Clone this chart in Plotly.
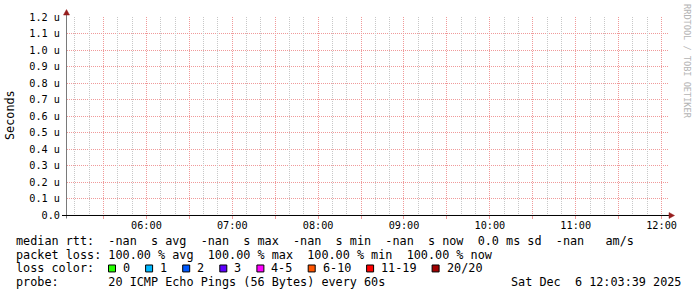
import plotly.graph_objects as go
import pandas as pd

# ---- data ----
rtt_times = ["2025-12-06 05:05:00", "2025-12-06 07:00:00", "2025-12-06 09:00:00",
             "2025-12-06 11:00:00", "2025-12-06 12:03:39"]
rtt_values = [None, None, None, None, None]          # median rtt (all -nan)

y_ticks_s = [0.0, 1e-7, 2e-7, 3e-7, 4e-7, 5e-7, 6e-7, 7e-7, 8e-7, 9e-7, 1e-6, 1.1e-6, 1.2e-6]
y_tick_labels = ["0.0", "0.1 u", "0.2 u", "0.3 u", "0.4 u", "0.5 u", "0.6 u",
                 "0.7 u", "0.8 u", "0.9 u", "1.0 u", "1.1 u", "1.2 u"]

x_tick_times = ["2025-12-06 05:30", "2025-12-06 06:00", "2025-12-06 06:30", "2025-12-06 07:00",
                "2025-12-06 07:30", "2025-12-06 08:00", "2025-12-06 08:30", "2025-12-06 09:00",
                "2025-12-06 09:30", "2025-12-06 10:00", "2025-12-06 10:30", "2025-12-06 11:00",
                "2025-12-06 11:30", "2025-12-06 12:00"]
x_tick_labels = ["", "06:00", "", "07:00", "", "08:00", "", "09:00", "", "10:00", "", "11:00", "", "12:00"]

rtt_stat_names = ["avg", "max", "min", "now"]
rtt_stat_values = ["-nan", "-nan", "-nan", "-nan"]
rtt_sd = "0.0"
rtt_am = "-nan"
loss_stat_names = ["avg", "max", "min", "now"]
loss_stat_values = [100.00, 100.00, 100.00, 100.00]

loss_labels = ["0", "1", "2", "3", "4-5", "6-10", "11-19", "20/20"]
loss_colors = ["#26ff00", "#00b8ff", "#0059ff", "#5e00ff", "#ff00ff", "#ff5500", "#ff0000", "#a10000"]

probe_text = "20 ICMP Echo Pings (56 Bytes) every 60s"
date_text = "Sat Dec  6 12:03:39 2025"

# ---- layout geometry (pixels) ----
W, H = 697, 297
L, R, T, B = 67, 668, 15, 215
FONT = "DejaVu Sans Mono"
FS = 11.8
CW = 7.1
X_RANGE = ["2025-12-06 05:04:30", "2025-12-06 12:04:30"]

def px(x):
    return (x - L) / (R - L)

def py(y):
    return (B - y) / (B - T)

def nb(s):
    return s.replace(" ", "\u00a0")

MGRID = "#f09a9a"
GRID = "#c8c8c8"
ARROW = "#961e1e"

# minor (10 min) grid positions, skipping the 30-min major lines
minor_grid = [t for t in pd.date_range("2025-12-06 05:00", "2025-12-06 12:10", freq="10min")
              if t.minute % 30 != 0]

fig = go.Figure()
fig.add_trace(go.Scatter(x=rtt_times, y=rtt_values, mode="lines", xaxis="x2",
                         line=dict(color="#26ff00", width=1), showlegend=False, hoverinfo="skip"))
fig.add_trace(go.Scatter(x=rtt_times, y=rtt_values, mode="lines",
                         line=dict(color="#26ff00", width=1), showlegend=False, hoverinfo="skip"))

fig.update_layout(
    width=W, height=H,
    margin=dict(l=L, r=W - R, t=T, b=H - B, pad=0),
    paper_bgcolor="white", plot_bgcolor="white",
    showlegend=False,
    font=dict(family=FONT, size=10.2, color="black"),
    xaxis=dict(
        type="date", range=X_RANGE,
        tickmode="array", tickvals=x_tick_times, ticktext=x_tick_labels,
        showgrid=True, gridcolor=MGRID, griddash="1px,1px", gridwidth=1,
        ticks="outside", ticklen=3, tickcolor=MGRID, tickwidth=1,
        ticklabelstandoff=-2,
        showline=False, zeroline=False,
        tickfont=dict(family=FONT, size=10.2, color="black"),
        fixedrange=True,
    ),
    xaxis2=dict(
        type="date", range=X_RANGE, overlaying="x", anchor="y",
        tickmode="array", tickvals=minor_grid, showticklabels=False, ticks="",
        showgrid=True, gridcolor=GRID, griddash="1px,1px", gridwidth=1,
        showline=False, zeroline=False, fixedrange=True,
    ),
    yaxis=dict(
        range=[0, 1.2e-6],
        tickmode="array", tickvals=y_ticks_s, ticktext=y_tick_labels,
        showgrid=True, gridcolor=MGRID, griddash="1px,1px", gridwidth=1,
        ticks="", showline=False, zeroline=False,
        ticklabelstandoff=6,
        tickfont=dict(family=FONT, size=10.2, color="black"),
        fixedrange=True,
    ),
)

shapes = []
# y axis line (gray) and x axis line (black)
shapes.append(dict(type="line", xref="paper", yref="paper",
                   x0=px(66.5), x1=px(66.5), y0=py(218.5), y1=py(12),
                   line=dict(color="#7a7a7a", width=1)))
shapes.append(dict(type="line", xref="paper", yref="paper",
                   x0=px(62), x1=px(670), y0=py(215.5), y1=py(215.5),
                   line=dict(color="black", width=1)))
# arrows
shapes.append(dict(type="path", xref="paper", yref="paper",
                   path=f"M {px(66.5)} {py(7.5)} L {px(63.5)} {py(13)} L {px(69.5)} {py(13)} Z",
                   fillcolor=ARROW, line=dict(color=ARROW, width=0.5)))
shapes.append(dict(type="path", xref="paper", yref="paper",
                   path=f"M {px(674.5)} {py(215.5)} L {px(669)} {py(212.5)} L {px(669)} {py(218.5)} Z",
                   fillcolor=ARROW, line=dict(color=ARROW, width=0.5)))

annotations = []

def text_at(x, y, s, xanchor="left", size=FS, color="black", angle=0):
    annotations.append(dict(xref="paper", yref="paper", x=px(x), y=py(y), text=nb(s),
                            showarrow=False, xanchor=xanchor, yanchor="middle",
                            textangle=angle, borderpad=0, borderwidth=0,
                            font=dict(family=FONT, size=size, color=color)))

# legend rows
row1 = "median rtt:  " + "  ".join(f"{v}  s {n}" for v, n in zip(rtt_stat_values, rtt_stat_names)) \
       + f"  {rtt_sd} ms sd  {rtt_am}   am/s"
row2 = "packet loss: " + "  ".join(f"{v:.2f} % {n}" for v, n in zip(loss_stat_values, loss_stat_names))
text_at(16, 241, row1)
text_at(16, 255, row2)
text_at(16, 269, "loss color:")
text_at(16, 283, "probe:       " + probe_text)
text_at(681, 283, date_text, xanchor="right")

# loss colour boxes
bx = 108
for lab, col in zip(loss_labels, loss_colors):
    shapes.append(dict(type="rect", xref="paper", yref="paper",
                       x0=px(bx + 0.5), x1=px(bx + 7.5), y0=py(265.5), y1=py(272.5),
                       fillcolor=col, line=dict(color="black", width=1)))
    lx = bx + 15
    text_at(lx, 269, lab)
    bx = lx + len(lab) * CW + 15

# y title and watermark
text_at(10, 114, "Seconds", xanchor="center", angle=-90)
text_at(687.5, 60, "RRDTOOL / TOBI OETIKER", xanchor="center", size=8.6, color="#b4b4b4", angle=90)

fig.update_layout(shapes=shapes, annotations=annotations)
fig.write_html("out.html")
